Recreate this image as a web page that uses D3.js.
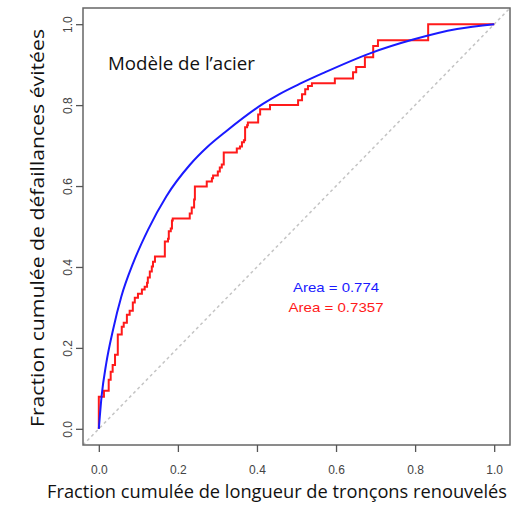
<!DOCTYPE html>
<html>
<head>
<meta charset="utf-8">
<script src="https://cdn.jsdelivr.net/npm/d3@7"></script>
<style>
  body { margin: 0; background: #fff; }
  svg { display: block; }
</style>
</head>
<body>
<svg width="519" height="508"></svg>
<script>
var svg = d3.select("svg");

// courbe lissée (modèle)
var blueX = [0, 0.007, 0.019, 0.036, 0.057, 0.087, 0.125, 0.171, 0.230, 0.275, 0.319, 0.415, 0.458, 0.509, 0.567, 0.686, 0.795, 0.906, 1];
var blueY = [0, 0.080, 0.163, 0.245, 0.327, 0.410, 0.493, 0.575, 0.652, 0.697, 0.733, 0.803, 0.828, 0.853, 0.879, 0.928, 0.962, 0.988, 1];

// courbe observée (en escalier)
var redX = [0, 0, 0.013, 0.025, 0.030, 0.035, 0.041, 0.048, 0.058, 0.063, 0.071, 0.078, 0.086, 0.091, 0.099, 0.109,
  0.116, 0.122, 0.124, 0.129, 0.134, 0.137, 0.142, 0.167, 0.175, 0.177, 0.182, 0.185, 0.187, 0.230, 0.235, 0.241,
  0.243, 0.273, 0.286, 0.289, 0.301, 0.306, 0.311, 0.316, 0.349, 0.357, 0.362, 0.367, 0.370, 0.375, 0.377, 0.403,
  0.408, 0.433, 0.504, 0.514, 0.522, 0.529, 0.539, 0.597, 0.643, 0.651, 0.673, 0.694, 0.706, 0.833, 1.0];
var redY = [0, 0.079, 0.094, 0.121, 0.141, 0.158, 0.183, 0.233, 0.252, 0.262, 0.282, 0.292, 0.312, 0.324, 0.334, 0.344,
  0.351, 0.361, 0.374, 0.389, 0.401, 0.413, 0.426, 0.463, 0.470, 0.488, 0.495, 0.515, 0.520, 0.532, 0.547, 0.567,
  0.599, 0.611, 0.619, 0.626, 0.636, 0.646, 0.653, 0.683, 0.693, 0.698, 0.708, 0.713, 0.745, 0.750, 0.757, 0.777,
  0.790, 0.800, 0.812, 0.827, 0.839, 0.847, 0.854, 0.866, 0.881, 0.894, 0.918, 0.946, 0.960, 1.0, 1.0];

var ticks = [0, 0.2, 0.4, 0.6, 0.8, 1.0];
var areaLabels = ["Area = 0.774", "Area = 0.7357"];

// ("top" est réservé par window, d'où ces noms)
var pLeft = 83, pRight = 510, pTop = 8, pBottom = 445;

var x = d3.scaleLinear().domain([-0.04, 1.04]).range([pLeft, pRight]);
var y = d3.scaleLinear().domain([-0.04, 1.04]).range([pBottom, pTop]);

svg.append("defs").append("clipPath").attr("id", "clip")
  .append("rect").attr("x", pLeft).attr("y", pTop)
  .attr("width", pRight - pLeft).attr("height", pBottom - pTop);

// diagonale
svg.append("line")
  .attr("clip-path", "url(#clip)")
  .attr("x1", x(-0.04)).attr("y1", y(-0.04))
  .attr("x2", x(1.04)).attr("y2", y(1.04))
  .attr("stroke", "#c4c4c4").attr("stroke-width", 1.5)
  .attr("stroke-dasharray", "3,3");

var blueData = blueX.map(function(d, i) { return [d, blueY[i]]; });
var redData = redX.map(function(d, i) { return [d, redY[i]]; });

svg.append("path")
  .datum(redData)
  .attr("fill", "none")
  .attr("stroke", "#ff1a1a")
  .attr("stroke-width", 2)
  .attr("d", d3.line()
    .x(function(d) { return x(d[0]); })
    .y(function(d) { return y(d[1]); })
    .curve(d3.curveStepAfter));

svg.append("path")
  .datum(blueData)
  .attr("fill", "none")
  .attr("stroke", "#1a1aff")
  .attr("stroke-width", 2)
  .attr("d", d3.line()
    .x(function(d) { return x(d[0]); })
    .y(function(d) { return y(d[1]); })
    .curve(d3.curveMonotoneX));

// cadre
svg.append("rect")
  .attr("x", pLeft).attr("y", pTop)
  .attr("width", pRight - pLeft).attr("height", pBottom - pTop)
  .attr("fill", "none").attr("stroke", "#666").attr("stroke-width", 1.5);

// axes
var xAxis = svg.append("g")
  .attr("transform", "translate(0," + pBottom + ")")
  .call(d3.axisBottom(x).tickValues(ticks).tickSize(7).tickPadding(13)
    .tickFormat(d3.format(".1f")));
xAxis.select(".domain").remove();
xAxis.selectAll("line").attr("stroke", "#555").attr("stroke-width", 1.3);
xAxis.selectAll("text")
  .attr("font-family", "Liberation Sans, Arial, sans-serif")
  .attr("font-size", 12).attr("fill", "#444");

var yAxis = svg.append("g")
  .attr("transform", "translate(" + pLeft + ",0)")
  .call(d3.axisLeft(y).tickValues(ticks).tickSize(7).tickPadding(0)
    .tickFormat(d3.format(".1f")));
yAxis.select(".domain").remove();
yAxis.selectAll("line").attr("stroke", "#555").attr("stroke-width", 1.3);
yAxis.selectAll("text")
  .attr("font-family", "Liberation Sans, Arial, sans-serif")
  .attr("font-size", 12).attr("fill", "#444")
  .attr("text-anchor", "middle")
  .attr("dy", "0")
  .attr("x", 0).attr("y", 0)
  .attr("transform", "translate(-11,0) rotate(-90)");

// titres des axes
svg.append("text")
  .attr("x", 277).attr("y", 498)
  .attr("text-anchor", "middle")
  .attr("font-family", "Open Sans, sans-serif")
  .attr("font-size", 17.5).attr("fill", "#111")
  .attr("textLength", 460).attr("lengthAdjust", "spacingAndGlyphs")
  .text("Fraction cumulée de longueur de tronçons renouvelés");

svg.append("text")
  .attr("transform", "translate(44,228) rotate(-90)")
  .attr("text-anchor", "middle")
  .attr("font-family", "Open Sans, sans-serif")
  .attr("font-size", 17.5).attr("fill", "#111")
  .attr("textLength", 398).attr("lengthAdjust", "spacingAndGlyphs")
  .text("Fraction cumulée de défaillances évitées");

svg.append("text")
  .attr("x", 108).attr("y", 70)
  .attr("font-family", "Open Sans, sans-serif")
  .attr("font-size", 18).attr("fill", "#111")
  .attr("textLength", 147).attr("lengthAdjust", "spacingAndGlyphs")
  .text("Modèle de l’acier");

// aires
svg.append("text")
  .attr("x", x(0.6)).attr("y", y(0.35))
  .attr("dy", "0.35em")
  .attr("text-anchor", "middle")
  .attr("font-family", "Liberation Sans, Arial, sans-serif")
  .attr("font-size", 13).attr("fill", "#1a1aff")
  .attr("textLength", 86).attr("lengthAdjust", "spacingAndGlyphs")
  .text(areaLabels[0]);

svg.append("text")
  .attr("x", x(0.6)).attr("y", y(0.30))
  .attr("dy", "0.35em")
  .attr("text-anchor", "middle")
  .attr("font-family", "Liberation Sans, Arial, sans-serif")
  .attr("font-size", 13).attr("fill", "#ff1a1a")
  .attr("textLength", 95).attr("lengthAdjust", "spacingAndGlyphs")
  .text(areaLabels[1]);
</script>
</body>
</html>
